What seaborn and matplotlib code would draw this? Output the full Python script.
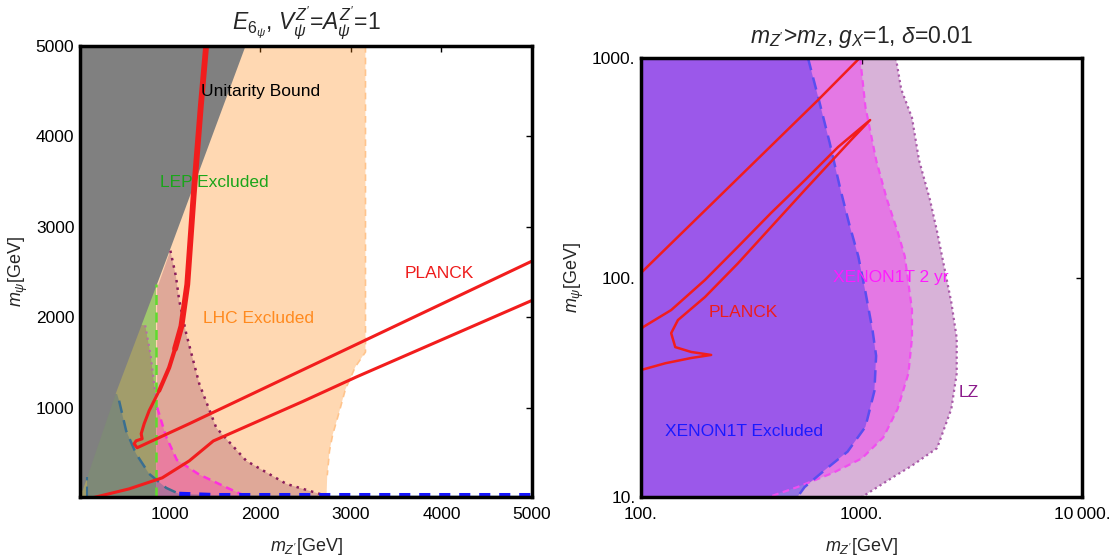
import numpy as np
import matplotlib
matplotlib.use("Agg")
import matplotlib.pyplot as plt
import seaborn as sns

# ---------------- left panel (E6 psi) data, GeV ----------------
unit_x = [10, 10, 40, 415, 1008, 1838]
unit_y = [5000, 80, 80, 1181, 2756, 5000]

lhc_x = [10, 10, 3162, 3162, 3050, 2940, 2876, 2800, 2765, 2740, 2732]
lhc_y = [10, 5000, 5000, 1614, 1450, 1200, 965, 700, 521, 250, 10]

lep_x = [10, 850, 850, 10]
lep_y = [10, 10, 2362, 2362]

lz_right_x = [1008, 1070, 1106, 1183, 1327, 1515, 1847, 2289, 2731]
lz_right_y = [2736, 2450, 2185, 1819, 1264, 776, 410, 155, 22]
lz_left_x = [731, 791, 838, 850]
lz_left_y = [1909, 1575, 1181, 1100]

x2yr_x = [863, 960, 1080, 1324, 1640, 1838]
x2yr_y = [1000, 680, 420, 260, 110, 20]

x1t_x = [88, 88, 30, 10, 420, 442, 520, 630, 774, 962, 1106, 1500, 5000]
x1t_y = [10, 230, 320, 1150, 1150, 1076, 743, 488, 266, 111, 44, 32, 30]

planck_thick_x = [1403, 1344, 1265, 1195, 1130, 1060]
planck_thick_y = [5000, 4331, 3346, 2362, 1900, 1650]
planck_mid_x = [1060, 995, 885]
planck_mid_y = [1650, 1442, 1187]
planck_a_x = [885, 774, 719, 686, 697, 630, 608, 641, 1217, 5000]
planck_a_y = [1187, 965, 821, 710, 654, 632, 599, 555, 821, 2620]
planck_b_x = [144, 553, 918, 1217, 1482, 2470, 3063, 5000]
planck_b_y = [0, 100, 222, 410, 630, 1067, 1339, 2185]

# ---------------- right panel (g_X=1) data, GeV ----------------
xe_x = [100, 572, 641, 717, 801, 880, 967, 1042, 1123, 1165, 1144, 1042, 865, 690, 552, 512, 100]
xe_y = [1000, 1000, 644, 412, 254, 175, 125, 86, 57.2, 44, 30.4, 20.9, 16.1, 13.4, 11.1, 10, 10]

xe2_x = [100, 986, 1042, 1166, 1304, 1458, 1571, 1694, 1694, 1632, 1458, 1256, 1004, 745, 512, 380, 100]
xe2_y = [1000, 1000, 598, 342, 227, 162, 125, 71.4, 53, 36.6, 25.2, 18.7, 15.0, 12.9, 11.1, 10, 10]

lz_x = [100, 1432, 1514, 1694, 1824, 2042, 2202, 2371, 2555, 2703, 2703, 2555, 2202, 1694, 1406, 1004, 100]
lz_y = [1000, 1000, 721, 535, 342, 227, 162, 112, 77, 53, 36.6, 25.2, 16.7, 13.9, 12.4, 10, 10]

pl_up_x = [100, 635, 980]
pl_up_y = [105, 644, 1000]
pl_loop_x = [100, 102, 137, 195, 275, 389, 554, 782, 1094,
             896, 554, 389, 275, 195, 147, 137, 143, 169, 208, 169, 129, 100]
pl_loop_y = [58, 59.4, 71.1, 97.5, 138, 197, 278, 393, 522,
             423, 251, 170, 116, 81.5, 64, 55.8, 48.2, 45.8, 44.4, 43, 40.7, 37.9]

sns.set_theme(style="white")
plt.rcParams["font.family"] = ["Liberation Sans", "DejaVu Sans"]
plt.rcParams["mathtext.fontset"] = "custom"
plt.rcParams["mathtext.rm"] = "Liberation Sans"
plt.rcParams["mathtext.it"] = "Liberation Sans:italic"

RED = "#f21d1d"

def line(ax, x, y, color, lw, ls="-"):
    sns.lineplot(x=x, y=y, sort=False, estimator=None, ax=ax, color=color,
                 lw=lw, linestyle=ls, legend=False)

def frame(ax):
    for s in ax.spines.values():
        s.set_linewidth(2.5)
        s.set_color("black")
    ax.tick_params(direction="in", length=4, width=1, labelsize=12.5,
                   top=True, right=True, colors="black")
    ax.tick_params(axis="x", pad=7)
    ax.tick_params(axis="y", pad=4)

fig = plt.figure(figsize=(11.15, 5.57), dpi=100)
ax1 = fig.add_axes([0.0717, 0.1077, 0.4054, 0.8097])
ax2 = fig.add_axes([0.5749, 0.1077, 0.3955, 0.788])

# ---- left ----
ax1.fill(lhc_x, lhc_y, color="#ff7f00", alpha=0.3, lw=0)
ax1.fill(lep_x, lep_y, color="#2cb41b", alpha=0.45, lw=0)
lz_poly_x = lz_right_x + [10, 10] + lz_left_x + [862, 862]
lz_poly_y = lz_right_y + [10, 2000] + lz_left_y + [1100, 2320]
ax1.fill(lz_poly_x, lz_poly_y, color="#a64f68", alpha=0.35, lw=0)
ax1.fill(x2yr_x + [850], x2yr_y + [10], color="#f93fac", alpha=0.4, lw=0)
ax1.fill(x1t_x + [5000], x1t_y + [10], color="#2d5b94", alpha=0.3, lw=0)
ax1.fill(unit_x, unit_y, color="#808080", lw=0)

line(ax1, [3162, 3162] + lhc_x[4:-1], [5000, 1614] + lhc_y[4:-1], "#ffc48c", 1.2, (0, (4, 3)))
line(ax1, [850, 850], [10, 2362], "#5fdc2e", 1.8, (0, (4, 3)))
line(ax1, lz_right_x, lz_right_y, "#8b1e5c", 1.8, (0, (1, 2)))
line(ax1, lz_left_x, lz_left_y, "#b66aa8", 1.5, (0, (1, 2)))
line(ax1, x2yr_x, x2yr_y, "#ff2ee0", 1.8, (0, (3, 2)))
line(ax1, x1t_x[5:11], x1t_y[5:11], "#3a6f90", 1.8, (0, (5, 3)))
line(ax1, [88, 88], [10, 230], "#3a6f90", 1.5, (0, (5, 3)))
line(ax1, [1106, 1500, 5000], [44, 30, 30], "#1414ff", 3.2, (0, (2.5, 2)))

line(ax1, planck_thick_x, planck_thick_y, RED, 4.2)
line(ax1, planck_mid_x, planck_mid_y, RED, 3.0)
line(ax1, planck_a_x, planck_a_y, RED, 2.2)
line(ax1, planck_b_x, planck_b_y, RED, 2.2)

ax1.text(1344, 4496, "Unitarity Bound", color="black", fontsize=12.5, va="center")
ax1.text(889, 3492, "LEP Excluded", color="#1aa51a", fontsize=12.5, va="center")
ax1.text(1372, 1988, "LHC Excluded", color="#ff8a1f", fontsize=12.5, va="center")
ax1.text(3597, 2488, "PLANCK", color="#ee1c1c", fontsize=12.5, va="center")

ax1.set_xlim(10, 5000)
ax1.set_ylim(10, 5000)
ax1.set_xticks([1000, 2000, 3000, 4000, 5000])
ax1.set_yticks([1000, 2000, 3000, 4000, 5000])
ax1.set_xlabel(r"$m_{Z'}$[GeV]", fontsize=13, labelpad=10)
ax1.set_ylabel(r"$m_\psi$[GeV]", fontsize=13, labelpad=4)
ax1.set_title(r"$E_{6_\psi}$, $V_\psi^{Z'}$=$A_\psi^{Z'}$=1", fontsize=16.5, pad=12)
frame(ax1)

# ---- right ----
ax2.set_xscale("log")
ax2.set_yscale("log")
ax2.fill(lz_x, lz_y, color="#800080", alpha=0.3, lw=0)
ax2.fill(xe2_x, xe2_y, color="#ff00ff", alpha=0.32, lw=0)
ax2.fill(xe_x, xe_y, color="#543af0", alpha=0.5, lw=0)
line(ax2, lz_x[1:-1], lz_y[1:-1], "#a85aa8", 1.6, (0, (1, 1.5)))
line(ax2, xe2_x[1:-1], xe2_y[1:-1], "#f04ef0", 1.6, (0, (3, 2)))
line(ax2, xe_x[1:-1], xe_y[1:-1], "#5a4ef0", 1.8, (0, (5, 3)))
line(ax2, pl_up_x, pl_up_y, RED, 1.8)
line(ax2, pl_loop_x, pl_loop_y, RED, 1.8)

ax2.text(745, 100, "XENON1T 2 yr", color="#ff1aff", fontsize=12.5, va="center")
ax2.text(203, 69, "PLANCK", color="#ee1c1c", fontsize=12.5, va="center")
ax2.text(2754, 29.8, "LZ", color="#8b1a8b", fontsize=12.5, va="center")
ax2.text(128, 19.8, "XENON1T Excluded", color="#1a1aff", fontsize=12.5, va="center")

ax2.set_xlim(100, 10000)
ax2.set_ylim(10, 1000)
ax2.set_xticks([100, 1000, 10000])
ax2.set_xticklabels(["100.", "1000.", "10\u2009000."])
ax2.set_yticks([10, 100, 1000])
ax2.set_yticklabels(["10.", "100.", "1000."])
ax2.minorticks_off()
ax2.set_xlabel(r"$m_{Z'}$[GeV]", fontsize=13, labelpad=10)
ax2.set_ylabel(r"$m_\psi$[GeV]", fontsize=13, labelpad=4)
ax2.set_title(r"$m_{Z'}$>$m_Z$, $g_X$=1, $\delta$=0.01", fontsize=16.5, pad=11)
frame(ax2)

fig.savefig("out.png", dpi=100)
